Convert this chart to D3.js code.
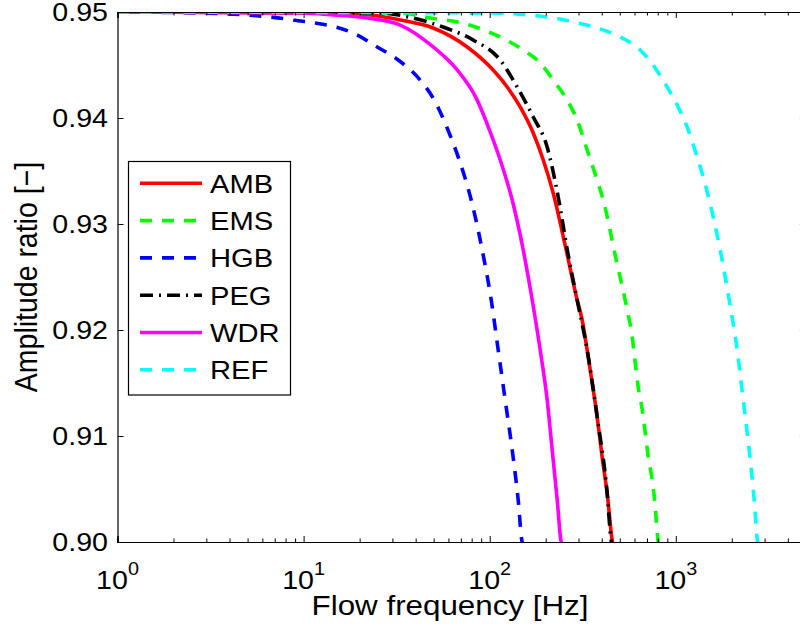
<!DOCTYPE html>
<html>
<head>
<meta charset="utf-8">
<script src="https://cdn.jsdelivr.net/npm/d3@7"></script>
<style>
  html, body { margin: 0; padding: 0; background: #fff; }
  svg { display: block; font-family: "Liberation Sans", Arial, Helvetica, sans-serif; }
</style>
</head>
<body>
<svg id="chart" width="800" height="630"></svg>
<script>
// Amplitude ratio vs. flow frequency, one curve per model: [frequency Hz, ratio]
const AMB = [[1,0.95],[15.7,0.9499],[22.8,0.94972],[33.1,0.94925],[49.7,0.94849],[75.7,0.9467],[100.7,0.94481],[124.2,0.94292],[145.8,0.94104],[171.4,0.93858],[194,0.93604],[219.3,0.93292],[257.6,0.92755],[295.1,0.92283],[314,0.92094],[334,0.91811],[355.5,0.915],[378.1,0.91179],[402,0.90802],[427.7,0.90462],[455,0.90019],[458,0.8999]];
const EMS = [[1,0.95],[33.1,0.9499],[47.9,0.94943],[66.9,0.94906],[113.9,0.94764],[151.4,0.94642],[187,0.94519],[219.3,0.94358],[260.8,0.9417],[295.1,0.93981],[334,0.93698],[377.6,0.93415],[407.4,0.93226],[478.6,0.9266],[548.3,0.92189],[583.4,0.91934],[605.3,0.91689],[628,0.91462],[660.7,0.91245],[685.5,0.91028],[711.2,0.90802],[746.8,0.90585],[775.6,0.9033],[794.3,0.90094],[806,0.8999]];
const HGB = [[1,0.95],[2.78,0.94991],[8.79,0.94925],[18.48,0.94802],[24.86,0.9467],[32.24,0.94547],[42.32,0.94358],[50.33,0.9417],[60.58,0.93858],[68.59,0.93604],[79.55,0.93226],[91.15,0.92755],[101.9,0.92283],[111.1,0.91811],[121.1,0.9134],[132.1,0.90868],[142.3,0.90396],[149.5,0.9],[151,0.8999]];
const PEG = [[1,0.95],[25.8,0.9499],[38.8,0.94943],[56.2,0.94858],[81.5,0.94736],[113.9,0.94547],[140.5,0.94292],[171.4,0.94009],[203.6,0.93726],[233.4,0.93255],[261.2,0.92755],[295.1,0.92283],[334,0.91811],[378.1,0.91179],[427.7,0.90462],[449,0.9002],[452,0.8999]];
const WDR = [[1,0.95],[9.59,0.94991],[14.43,0.94972],[21.97,0.94943],[33.05,0.94877],[49.71,0.9467],[66.9,0.94453],[84.5,0.94190],[100.6,0.93870],[113.9,0.93604],[132.1,0.93226],[151.4,0.92755],[169.2,0.92283],[186.8,0.91811],[203.7,0.9134],[216.7,0.90868],[230.6,0.90396],[242.3,0.9],[244,0.8999]];
const REF = [[1,0.95],[97,0.94991],[203.7,0.94953],[281,0.94906],[378.1,0.94849],[502.4,0.94764],[643.6,0.94642],[775,0.94472],[899,0.94292],[1030.2,0.94104],[1166,0.93887],[1287,0.9366],[1404,0.93443],[1512,0.93226],[1733,0.92755],[1936,0.92283],[2138,0.91811],[2303,0.9134],[2480,0.90868],[2638,0.90396],[2755,0.9],[2765,0.8999]];

const seriesNames = ["AMB", "EMS", "HGB", "PEG", "WDR", "REF"];
const seriesData = [AMB, EMS, HGB, PEG, WDR, REF];
const seriesColors = ["#ff0000", "#00ff00", "#0000ff", "#000000", "#ff00ff", "#00ffff"];
const seriesDash = [null, "12,10", "12,10", "13,6,2,6", null, "12,10"];

const yTicks = [0.90, 0.91, 0.92, 0.93, 0.94, 0.95];
const xMajorTicks = [1, 10, 100, 1000];
const xTickExponents = ["0", "1", "2", "3"];
const xLabel = "Flow frequency [Hz]";
const yLabel = "Amplitude ratio [\u2212]";

const xDomain = [1, 5000];
const yDomain = [0.90, 0.95];

const plot = { left: 117.5, top: 12, bottom: 542 };
plot.right = plot.left + 186.1 * Math.log10(xDomain[1]);

// Text is drawn slightly widened, like the exported figure's lettering
const TICK_FONT = 26;
const LABEL_FONT = 28.5;
const STRETCH = 1.1;

const svg = d3.select("#chart");

const x = d3.scaleLog().domain(xDomain).range([plot.left, plot.right]);
const y = d3.scaleLinear().domain(yDomain).range([plot.bottom, plot.top]);

svg.append("defs").append("clipPath").attr("id", "plot-clip")
  .append("rect")
  .attr("x", plot.left).attr("y", plot.top)
  .attr("width", plot.right - plot.left).attr("height", plot.bottom - plot.top);

// Curves
const line = d3.line().x(d => x(d[0])).y(d => y(d[1])).curve(d3.curveMonotoneX);
const curves = svg.append("g").attr("clip-path", "url(#plot-clip)");
seriesData.forEach((data, i) => {
  curves.append("path")
    .datum(data)
    .attr("d", line)
    .attr("fill", "none")
    .attr("stroke", seriesColors[i])
    .attr("stroke-width", 3.6)
    .attr("stroke-dasharray", seriesDash[i])
    .attr("stroke-linejoin", "round");
});

// Minor ticks for the log axis
const minorTicks = [];
for (let dec = 1; dec <= 1000; dec *= 10) {
  for (let m = 2; m <= 9; m++) {
    const v = m * dec;
    if (v < xDomain[1]) minorTicks.push(v);
  }
}

// Axes: boxed frame with inward ticks
const axisG = svg.append("g");
axisG.append("g").attr("transform", `translate(0,${plot.bottom})`)
  .call(d3.axisBottom(x).tickValues(xMajorTicks).tickSize(-6).tickFormat(""));
axisG.append("g").attr("transform", `translate(0,${plot.bottom})`)
  .call(d3.axisBottom(x).tickValues(minorTicks).tickSize(-3.5).tickFormat(""));
axisG.append("g").attr("transform", `translate(0,${plot.top})`)
  .call(d3.axisTop(x).tickValues(xMajorTicks).tickSize(-6).tickFormat(""));
axisG.append("g").attr("transform", `translate(0,${plot.top})`)
  .call(d3.axisTop(x).tickValues(minorTicks).tickSize(-3.5).tickFormat(""));
axisG.append("g").attr("transform", `translate(${plot.left},0)`)
  .call(d3.axisLeft(y).tickValues(yTicks).tickSize(-6).tickFormat(""));
axisG.append("g").attr("transform", `translate(${plot.right},0)`)
  .call(d3.axisRight(y).tickValues(yTicks).tickSize(-6).tickFormat(""));

axisG.selectAll(".domain").attr("stroke", "#000").attr("stroke-width", 1.2);
axisG.selectAll(".tick line").attr("stroke", "#000").attr("stroke-width", 1);

// Y tick labels
svg.append("g").selectAll("text").data(yTicks).join("text")
  .attr("transform", d => `translate(${plot.left - 9.5},${y(d)}) scale(${STRETCH},1)`)
  .attr("dy", "0.36em")
  .attr("text-anchor", "end")
  .attr("font-size", TICK_FONT)
  .attr("fill", "#000")
  .text(d => d3.format(".2f")(d));

// X tick labels as powers of ten
const xl = svg.append("g").selectAll("text").data(xMajorTicks).join("text")
  .attr("transform", d => `translate(${x(d)},${plot.bottom + 47}) scale(${STRETCH},1)`)
  .attr("text-anchor", "middle")
  .attr("font-size", TICK_FONT)
  .attr("fill", "#000");
xl.append("tspan").text("10");
xl.append("tspan").attr("dy", -14).attr("font-size", 18).text((d, i) => xTickExponents[i]);

// Axis titles
svg.append("text")
  .attr("transform", `translate(450,615) scale(${STRETCH},1)`)
  .attr("text-anchor", "middle")
  .attr("font-size", LABEL_FONT)
  .attr("fill", "#000")
  .text(xLabel);

svg.append("text")
  .attr("transform", `translate(37,277) scale(${STRETCH},1) rotate(-90)`)
  .attr("text-anchor", "middle")
  .attr("font-size", LABEL_FONT)
  .attr("fill", "#000")
  .text(yLabel);

// Legend
const legend = { x: 128.5, y: 161.5, w: 162, h: 233.5, row: 37.3 };
const lg = svg.append("g");
lg.append("rect")
  .attr("x", legend.x).attr("y", legend.y)
  .attr("width", legend.w).attr("height", legend.h)
  .attr("fill", "#fff").attr("stroke", "#000").attr("stroke-width", 1.2);
seriesNames.forEach((name, i) => {
  const cy = legend.y + 21.8 + i * legend.row;
  lg.append("line")
    .attr("x1", legend.x + 11.5).attr("x2", legend.x + 73.5)
    .attr("y1", cy).attr("y2", cy)
    .attr("stroke", seriesColors[i])
    .attr("stroke-width", 3.6)
    .attr("stroke-dasharray", seriesDash[i]);
  lg.append("text")
    .attr("transform", `translate(${legend.x + 81.5},${cy}) scale(${STRETCH},1)`)
    .attr("dy", "0.36em")
    .attr("font-size", TICK_FONT + 0.5)
    .attr("fill", "#000")
    .text(name);
});
</script>
</body>
</html>
